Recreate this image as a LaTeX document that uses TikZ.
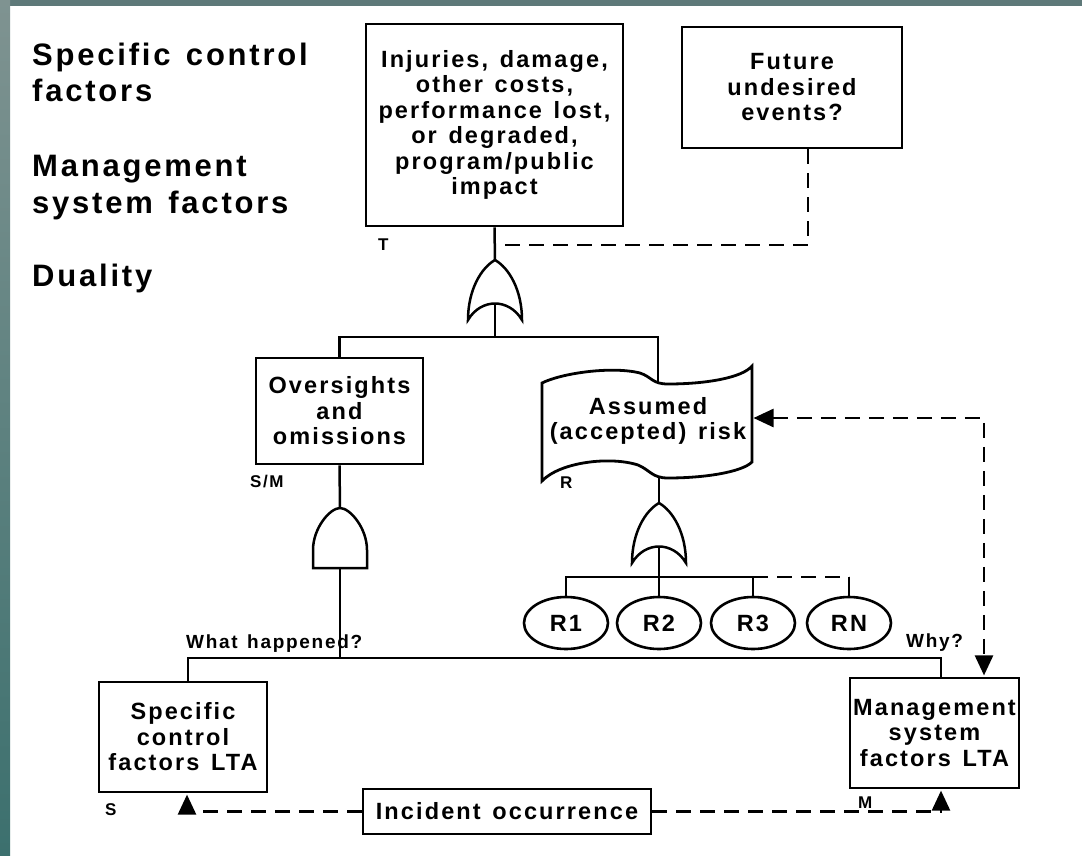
\documentclass[tikz,border=0pt]{standalone}
\usepackage{fontspec}
\setmainfont{Liberation Sans Bold}[LetterSpace=9,WordSpace=1.35]
\usetikzlibrary{arrows.meta,shapes.geometric}
\definecolor{bandtop}{HTML}{5E7979}
\definecolor{bandup}{HTML}{7F9391}
\definecolor{bandmid}{HTML}{A6AFAD}
\definecolor{bandbot}{HTML}{3C706E}
\newcommand{\headfont}{\fontsize{31}{36.7}\selectfont}
\newcommand{\boxfont}{\fontsize{23.5}{25.5}\selectfont}
\newcommand{\qfont}{\fontsize{19}{21}\selectfont}
\newcommand{\labfont}{\fontsize{17}{19}\selectfont}
\begin{document}
\begin{tikzpicture}[x=1pt,y=-1pt,
  boxn/.style={draw,line width=2.8pt,inner sep=0pt,align=center,font=\boxfont},
  elln/.style={draw,ellipse,line width=2.6pt,inner sep=0pt,minimum width=84pt,minimum height=52pt,font=\boxfont},
  head/.style={anchor=base west,inner sep=0pt,align=left,font=\headfont},
  lab/.style={anchor=base west,inner sep=0pt,font=\labfont},
  qlab/.style={anchor=base west,inner sep=0pt,font=\qfont},
  conn/.style={line width=2.5pt},
  dashconn/.style={line width=2.5pt,dash pattern=on 15pt off 9pt},
  arr/.style={-{Triangle[length=20pt,width=18pt]}},
  dblarr/.style={{Triangle[length=20pt,width=18pt]}-{Triangle[length=20pt,width=18pt]}},
  orgate/.pic={\draw[line width=2.5pt,fill=white] (-27,60) .. controls (-27,30) and (-14,8) .. (0,0)
      .. controls (14,8) and (27,30) .. (27,60) .. controls (14,38) and (-14,38) .. cycle;},
  andgate/.pic={\draw[line width=2.5pt,fill=white] (-27,60) -- (-27,42) .. controls (-27,20) and (-10,0) .. (0,0)
      .. controls (10,0) and (27,20) .. (27,42) -- (27,60) -- cycle;}
]
\useasboundingbox (0,0) rectangle (1082,855);
\fill[white] (0,0) rectangle (1082,855);
\fill[bandtop] (0,0) rectangle (1082,6);
\shade[top color=bandup,middle color=bandmid,bottom color=bandbot] (0,0) rectangle (10,855);

% headings (base = baseline of last line)
\node[head] (h1) at (32,101.7) {Specific control\\factors};
\node[head] (h2) at (32,213.3) {Management\\system factors};
\node[head] (h3) at (32,286.7) {Duality};

% boxes
\node[boxn,minimum width=257pt,minimum height=202pt] (top) at (494.5,125)
  {Injuries, damage,\\other costs,\\performance lost,\\or degraded,\\program/public\\impact};
\node[boxn,minimum width=220pt,minimum height=121pt] (fut) at (792,87.5)
  {Future\\undesired\\events?};
\node[boxn,minimum width=167pt,minimum height=106pt] (ov) at (339.5,411)
  {Oversights\\and\\omissions};
\node[boxn,minimum width=168pt,minimum height=110pt] (sc) at (183,737)
  {Specific\\control\\factors LTA};
\node[boxn,minimum width=169pt,minimum height=110pt] (mg) at (934.5,733)
  {Management\\system\\factors LTA};
\node[boxn,minimum width=288pt,minimum height=45pt] (inc) at (507,811.5)
  {Incident occurrence};

% assumed risk shape
\draw[line width=2.8pt] (542,383) .. controls (562,373) and (612,366) .. (640,373)
  .. controls (652,377) and (652,384) .. (668,384)
  .. controls (705,384) and (742,378) .. (752,366) -- (752,462)
  .. controls (742,472) and (705,478) .. (668,478)
  .. controls (652,478) and (650,470) .. (638,465)
  .. controls (610,456) and (560,462) .. (542,481) -- cycle;
\node[font=\boxfont,align=center,inner sep=0pt] (ar) at (648,421) {Assumed\\(accepted) risk};
\coordinate (artop) at (658,383);
\coordinate (arbot) at (659,477);
\coordinate (arright) at (753.5,418);

% ellipses
\node[elln] (r1) at (566,623) {R1};
\node[elln] (r2) at (659,623) {R2};
\node[elln] (r3) at (753,623) {R3};
\node[elln] (rn) at (849,623) {RN};

% gates
\pic at (495,260) {orgate};
\pic at (340,508) {andgate};
\pic at (659,503) {orgate};
\coordinate (g1t) at (495,260);
\coordinate (g1i) at (495,303.5);
\coordinate (j1) at (495,337);
\coordinate (fj) at (495,245);
\coordinate (g2t) at (340,508);
\coordinate (g2b) at (340,568);
\coordinate (j2) at (340,658);
\coordinate (g3t) at (659,503);
\coordinate (g3i) at (659,546.5);
\coordinate (j3) at (659,577);

% labels
\node[lab] (lT) at (378,250) {T};
\node[lab] (lSM) at (250,487) {S/M};
\node[lab] (lR) at (560,488) {R};
\node[lab] (lS) at (105,815) {S};
\node[lab] (lM) at (858,808) {M};
\node[qlab] (qw) at (186,648) {What happened?};
\node[qlab] (qy) at (906,647) {Why?};

% connectors
\draw[conn] (top.south) -- (g1t);
\draw[dashconn] ([xshift=16pt]fut.south) |- (fj);
\draw[conn] (g1i) -- (j1);
\draw[conn] (ov.north) |- (j1) -| (artop);
\draw[conn] (ov.south) -- (g2t);
\draw[conn] (g2b) -- (j2);
\draw[conn] ([xshift=5pt]sc.north) |- (j2) -| ([xshift=6.5pt]mg.north);
\draw[conn] (arbot) -- (g3t);
\draw[conn] (g3i) -- (r2.north);
\draw[conn] (r1.north) |- (j3) -| (r3.north);
\draw[dashconn] (r3.north |- j3) -- (rn.north |- j3);
\draw[conn] (rn.north |- j3) -- (rn.north);
\draw[dashconn,dblarr,shorten >=1.2pt] (arright) -| ([xshift=49.5pt]mg.north);
\draw[dashconn,arr,shorten >=1.2pt] (inc.west) -| ([xshift=4pt]sc.south);
\draw[dashconn,arr,shorten >=1.2pt] (inc.east) -| ([xshift=6.5pt]mg.south);
\end{tikzpicture}
\end{document}
